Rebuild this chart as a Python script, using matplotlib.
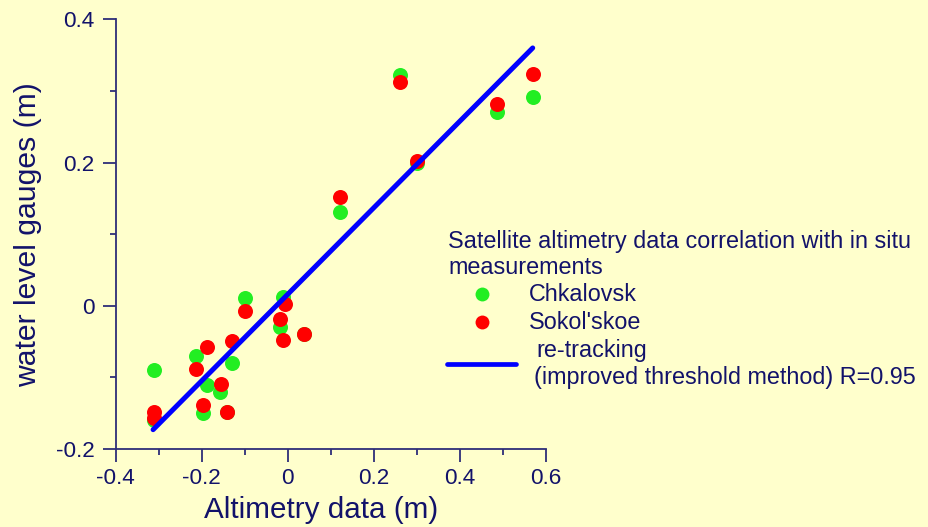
import numpy as np
import matplotlib
matplotlib.use("Agg")
import matplotlib.pyplot as plt
import matplotlib.lines as mlines
from matplotlib.ticker import MultipleLocator

# altimetry vs gauge readings, metres
chk_x = [-0.31, -0.31, -0.213, -0.198, -0.188, -0.157, -0.141, -0.13, -0.099,
         -0.018, -0.01, 0.038, 0.122, 0.261, 0.30, 0.487, 0.57]
chk_y = [-0.09, -0.16, -0.07, -0.15, -0.11, -0.12, -0.148, -0.08, 0.011,
         -0.03, 0.012, -0.04, 0.131, 0.322, 0.199, 0.270, 0.291]

sok_x = [-0.31, -0.31, -0.213, -0.198, -0.188, -0.154, -0.141, -0.13, -0.099,
         -0.018, -0.006, -0.01, 0.038, 0.122, 0.261, 0.30, 0.487, 0.57]
sok_y = [-0.148, -0.157, -0.088, -0.138, -0.058, -0.109, -0.149, -0.049, -0.008,
         -0.019, 0.003, -0.048, -0.039, 0.152, 0.312, 0.202, 0.282, 0.323]

# re-tracking regression line end points
fit_x = [-0.313, 0.57]
fit_y = [-0.173, 0.36]

xticks = [-0.4, -0.2, 0, 0.2, 0.4, 0.6]
xtick_labels = ["-0.4", "-0.2", "0", "0.2", "0.4", "0.6"]
yticks = [-0.2, 0, 0.2, 0.4]
ytick_labels = ["-0.2", "0", "0.2", "0.4"]

BG = "#FFFFCC"
NAVY = "#12126a"
AXC = "#2e2e78"
W, H = 929, 527

plt.rcParams['font.family'] = ['Liberation Sans', 'DejaVu Sans']

fig = plt.figure(figsize=(W / 100, H / 100), dpi=100, facecolor=BG)
ax = fig.add_axes([115.7 / W, 1 - 449 / H, (545.6 - 115.7) / W, (449 - 19.3) / H])
ax.set_facecolor(BG)

ax.plot(chk_x, chk_y, 'o', color='#22ee22', ms=10.8, mec='none', zorder=3, clip_on=False)
ax.plot(sok_x, sok_y, 'o', color='#ff0000', ms=10.8, mec='none', zorder=4, clip_on=False)
ax.plot(fit_x, fit_y, '-', color='#0000ff', lw=3.6, solid_capstyle='round', zorder=5)

ax.set_xlim(-0.4, 0.6)
ax.set_ylim(-0.2, 0.4)
ax.set_xticks(xticks)
ax.set_xticklabels(xtick_labels)
ax.set_yticks(yticks)
ax.set_yticklabels(ytick_labels)
ax.xaxis.set_minor_locator(MultipleLocator(0.1))
ax.yaxis.set_minor_locator(MultipleLocator(0.1))

for side in ['top', 'right']:
    ax.spines[side].set_visible(False)
for side in ['left', 'bottom']:
    ax.spines[side].set_color(AXC)
    ax.spines[side].set_linewidth(1.3)

ax.tick_params(which='major', length=9.4, width=1.3, color=AXC, labelcolor=NAVY,
               labelsize=16.2)
ax.tick_params(which='minor', length=4.3, width=1.3, color=AXC)
ax.tick_params(axis='x', which='major', pad=4)
ax.tick_params(axis='y', which='major', pad=6)

ax.set_xlabel("Altimetry data (m)", fontsize=21.3, color=NAVY)
ax.set_ylabel("water level gauges (m)", fontsize=21.7, color=NAVY)
ax.xaxis.set_label_coords((321 - 115.7) / 430, (449 - 496) / 430)
ax.yaxis.set_label_coords((41.7 - 115.7) / 430, 0.5)


def fx(px):
    return px / W


def fy(py):
    return 1 - py / H


# legend, laid out by hand
fs = 16.8
fig.text(fx(448), fy(248.3), "Satellite altimetry data correlation with in situ",
         fontsize=fs, color=NAVY, va='baseline')
fig.text(fx(448), fy(274.5), "measurements", fontsize=fs, color=NAVY, va='baseline')
fig.add_artist(mlines.Line2D([fx(482)], [fy(294)], marker='o', ls='none',
                             color='#22ee22', ms=10, mec='none'))
fig.text(fx(529), fy(301), "Chkalovsk", fontsize=fs, color=NAVY, va='baseline')
fig.add_artist(mlines.Line2D([fx(482)], [fy(321.7)], marker='o', ls='none',
                             color='#ff0000', ms=10, mec='none'))
fig.text(fx(529), fy(329), "Sokol'skoe", fontsize=fs, color=NAVY, va='baseline')
fig.add_artist(mlines.Line2D([fx(447.5), fx(516)], [fy(364), fy(364)],
                             color='#0000ff', lw=3.4, solid_capstyle='round'))
fig.text(fx(536), fy(357.3), "re-tracking", fontsize=fs, color=NAVY, va='baseline')
fig.text(fx(534), fy(384), "(improved threshold method) R=0.95", fontsize=fs,
         color=NAVY, va='baseline')

fig.savefig("out.png", dpi=100, facecolor=BG)
